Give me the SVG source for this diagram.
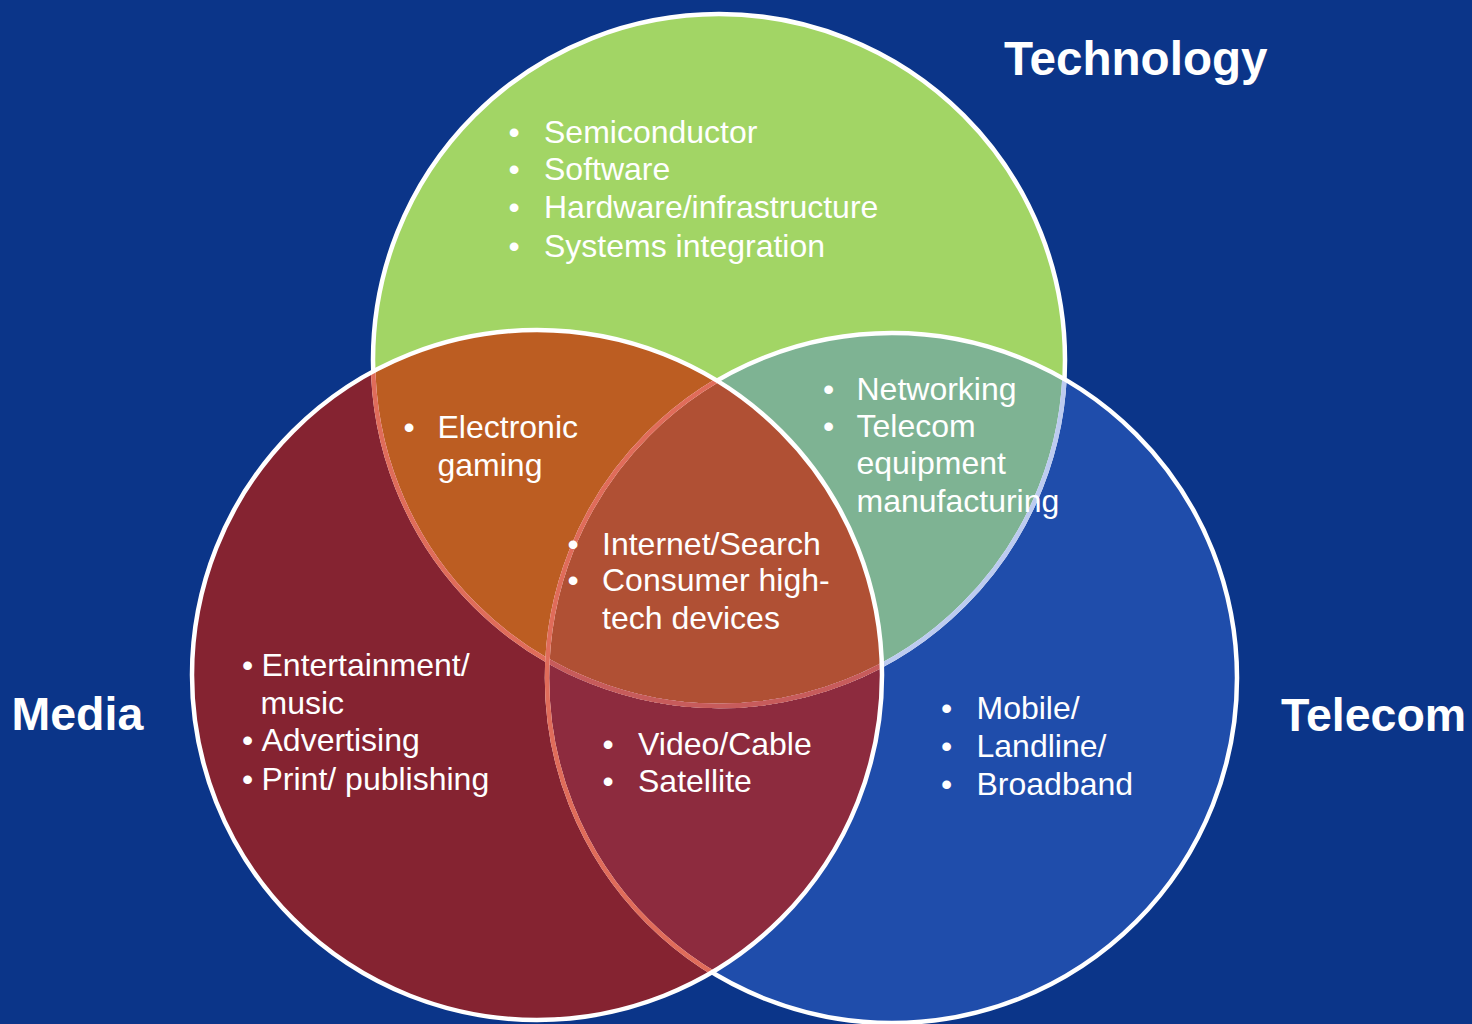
<svg xmlns="http://www.w3.org/2000/svg" width="1472" height="1024" viewBox="0 0 1472 1024">
<style>
.lbl{font-family:"Liberation Sans",Arial,sans-serif;font-weight:bold;font-size:46.5px;fill:#ffffff}
.item{font-family:"Liberation Sans",Arial,sans-serif;font-size:32px;fill:#ffffff}
.bul{font-family:"Liberation Sans",Arial,sans-serif;font-size:32px;fill:#ffffff;text-anchor:middle}
.ol{fill:none;stroke-width:4.5}
</style>
<defs>
<circle id="cT" cx="719" cy="360" r="346"/>
<circle id="cM" cx="537" cy="675" r="345"/>
<circle id="cL" cx="892" cy="678" r="345"/>
<clipPath id="clipT"><use href="#cT"/></clipPath>
<clipPath id="clipM"><use href="#cM"/></clipPath>
<clipPath id="clipL"><use href="#cL"/></clipPath>
</defs>
<rect width="1472" height="1024" fill="#0b3589"/>
<g id="technology-circle"><use href="#cT" fill="#a2d565"/></g>
<g id="telecom-circle"><use href="#cL" fill="#1f4dab"/></g>
<g id="media-circle"><use href="#cM" fill="#852331"/></g>
<g id="overlaps">
<use href="#cT" fill="#7eb393" clip-path="url(#clipL)"/>
<use href="#cT" fill="#bc5d22" clip-path="url(#clipM)"/>
<use href="#cL" fill="#8d2b3e" clip-path="url(#clipM)"/>
<g clip-path="url(#clipM)"><use href="#cT" fill="#b05034" clip-path="url(#clipL)"/></g>
</g>
<g id="outlines">
<use href="#cT" class="ol" stroke="#ffffff"/>
<use href="#cT" class="ol" stroke="#bccbf0" clip-path="url(#clipL)"/>
<use href="#cT" class="ol" stroke="#e06c5a" clip-path="url(#clipM)"/>
<g clip-path="url(#clipM)"><use href="#cT" class="ol" stroke="#c75b5b" clip-path="url(#clipL)"/></g>
<use href="#cL" class="ol" stroke="#ffffff"/>
<use href="#cL" class="ol" stroke="#e06c5a" clip-path="url(#clipM)"/>
<use href="#cM" class="ol" stroke="#ffffff"/>
</g>
<g id="label-technology"><text class="lbl" x="1004" y="75" style="font-size:47.6px">Technology</text></g>
<g id="label-media"><text class="lbl" x="11.5" y="730">Media</text></g>
<g id="label-telecom"><text class="lbl" x="1281" y="731">Telecom</text></g>
<g id="technology-items">
<text class="bul" x="514" y="143">•</text><text class="item" x="544" y="143">Semiconductor</text>
<text class="bul" x="514" y="180">•</text><text class="item" x="544" y="180">Software</text>
<text class="bul" x="514" y="218">•</text><text class="item" x="544" y="218">Hardware/infrastructure</text>
<text class="bul" x="514" y="257">•</text><text class="item" x="544" y="257">Systems integration</text>
</g>
<g id="tech-media-items">
<text class="bul" x="409" y="438">•</text><text class="item" x="437.5" y="438">Electronic</text>
<text class="item" x="437.5" y="476">gaming</text>
</g>
<g id="all-items">
<text class="bul" x="573" y="555">•</text><text class="item" x="602" y="555">Internet/Search</text>
<text class="bul" x="573" y="591">•</text><text class="item" x="602" y="591">Consumer high-</text>
<text class="item" x="602" y="629">tech devices</text>
</g>
<g id="tech-telecom-items">
<text class="bul" x="828.5" y="400">•</text><text class="item" x="856.5" y="400">Networking</text>
<text class="bul" x="828.5" y="437">•</text><text class="item" x="856.5" y="437">Telecom</text>
<text class="item" x="856.5" y="474">equipment</text>
<text class="item" x="856.5" y="512">manufacturing</text>
</g>
<g id="media-items">
<text class="bul" x="247.5" y="676">•</text><text class="item" x="261.5" y="676">Entertainment/</text>
<text class="item" x="260.5" y="714">music</text>
<text class="bul" x="247.5" y="751">•</text><text class="item" x="261.5" y="751">Advertising</text>
<text class="bul" x="247.5" y="790">•</text><text class="item" x="261.5" y="790">Print/ publishing</text>
</g>
<g id="media-telecom-items">
<text class="bul" x="608" y="754.5">•</text><text class="item" x="638" y="754.5">Video/Cable</text>
<text class="bul" x="608" y="792">•</text><text class="item" x="638" y="792">Satellite</text>
</g>
<g id="telecom-items">
<text class="bul" x="946.5" y="719">•</text><text class="item" x="976.5" y="719">Mobile/</text>
<text class="bul" x="946.5" y="757">•</text><text class="item" x="976.5" y="757">Landline/</text>
<text class="bul" x="946.5" y="795">•</text><text class="item" x="976.5" y="795">Broadband</text>
</g>
</svg>
